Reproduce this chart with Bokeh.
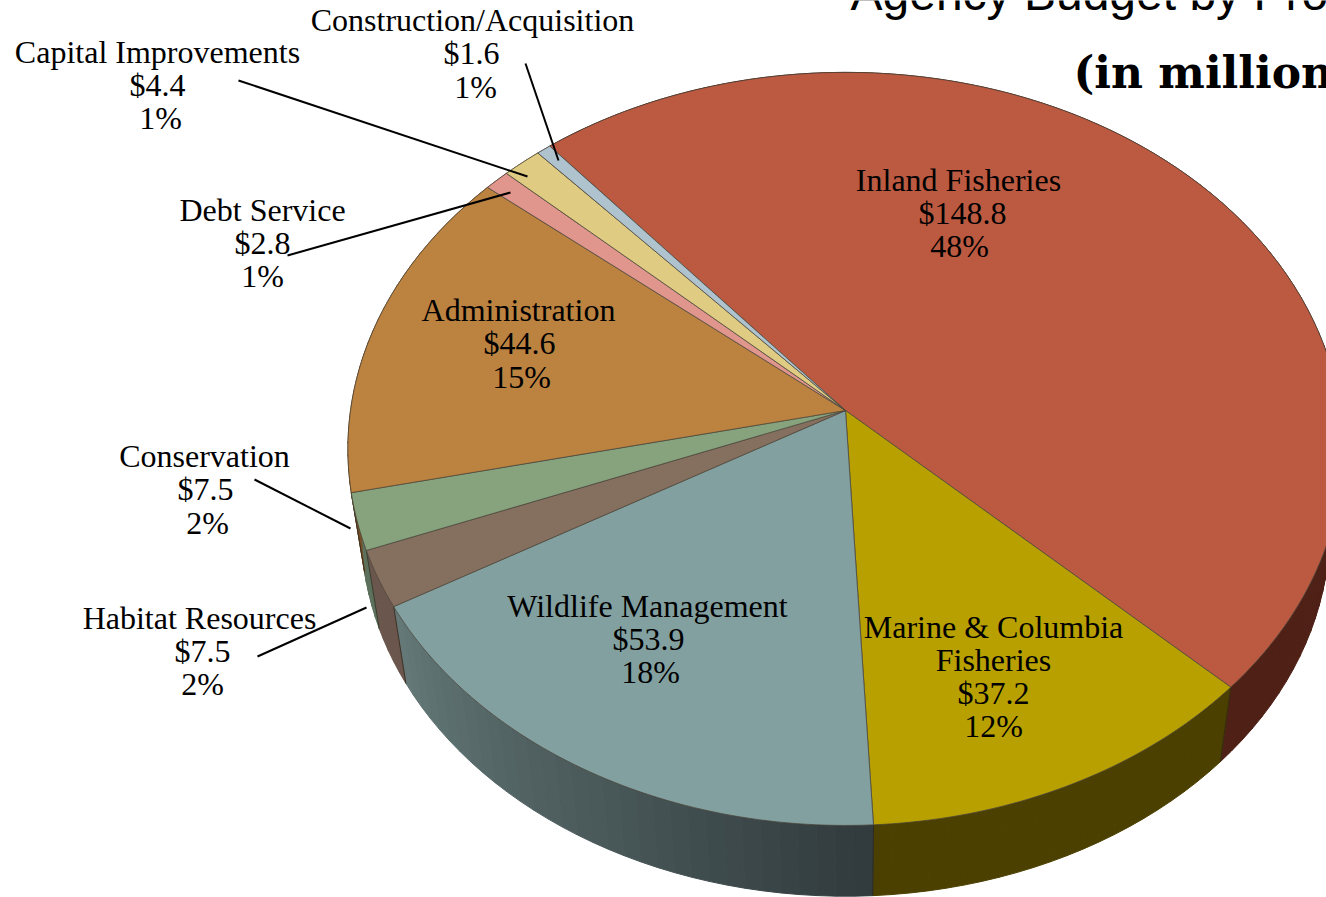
import math
from bokeh.plotting import figure
from bokeh.models import Range1d
from bokeh.embed import file_html
from bokeh.resources import INLINE
from bokeh.core.properties import value

programs = ["Inland Fisheries", "Marine & Columbia Fisheries", "Wildlife Management", "Habitat Resources",
            "Conservation", "Administration", "Debt Service", "Capital Improvements", "Construction/Acquisition"]
budget = [148.8, 37.2, 53.9, 7.5, 7.5, 44.6, 2.8, 4.4, 1.6]
percent = [48, 12, 18, 2, 2, 15, 1, 1, 1]
top_colors = ["#BC5A41", "#B8A000", "#82A0A0", "#85705F", "#86A37E", "#BC8240", "#E0968C", "#DFCB82", "#AEC3CE"]
wall_start = [(78, 32, 22), (75, 64, 0), (50, 60, 62), (106, 86, 76), (92, 112, 92), (120, 80, 40), (140, 90, 85), (140, 125, 80), (110, 120, 130)]
wall_end = [(78, 32, 22), (75, 64, 0), (100, 120, 120), (106, 86, 76), (92, 112, 92), (120, 80, 40), (140, 90, 85), (140, 125, 80), (110, 120, 130)]

W, H = 1326, 897
CX, CY, RX, RY, K = 845.0, 410.0, 495.0, 372.6, -0.102
START_DEG = -40.1
WALL_SCALE, WALL_DROP = 0.973, 82.0
SERIF = "Liberation Serif"
LABEL_PX = "32px"
LABEL_SHIFT = -11.5


def project(deg, lower=False):
    t = math.radians(deg)
    u, v = math.sin(t), math.cos(t)
    d = 1 - K * v
    x, y = RX * u / d, -RY * v / d
    if lower:
        return CX + x * WALL_SCALE, CY + y * WALL_SCALE + WALL_DROP
    return CX + x, CY + y


def arc_angles(a, b, step=1.0):
    n = max(2, int(math.ceil((b - a) / step)) + 1)
    return [a + (b - a) * i / (n - 1) for i in range(n)]


p = figure(width=W, height=H, x_range=Range1d(0, W), y_range=Range1d(H, 0),
           output_backend="svg", toolbar_location=None, min_border=0,
           background_fill_color="white", border_fill_color="white")
p.axis.visible = False
p.grid.visible = False
p.outline_line_color = None
p.styles = {"position": "absolute", "left": "0", "top": "0"}

total = sum(budget)
edges = [START_DEG]
for b in budget:
    edges.append(edges[-1] + 360.0 * b / total)

# side wall, shaded strip by strip
wx, wy, wc = [], [], []
for i in range(len(budget)):
    angs = arc_angles(edges[i], edges[i + 1], 2.0)
    for j in range(len(angs) - 1):
        f = j / max(1, len(angs) - 2)
        l, r = wall_start[i], wall_end[i]
        f2 = 1 - f
        col = tuple(int(l[c] * f2 + r[c] * f) for c in range(3))
        a, b = angs[j], angs[j + 1]
        p1, p2, p3, p4 = project(a), project(b), project(b, True), project(a, True)
        wx.append([p1[0], p2[0], p3[0], p4[0]])
        wy.append([p1[1], p2[1], p3[1], p4[1]])
        wc.append("#%02x%02x%02x" % col)
p.patches(wx, wy, fill_color=wc, line_color=wc, line_width=1)

# wall seams at the visible slice boundaries
for e in edges[1:6]:
    a, b = project(e), project(e, True)
    p.line([a[0], b[0]], [a[1], b[1]], line_color="#2a2418", line_width=1, line_alpha=0.7)

# top face
for i in range(len(budget)):
    pts = [project(a) for a in arc_angles(edges[i], edges[i + 1])]
    xs = [CX] + [q[0] for q in pts]
    ys = [CY] + [q[1] for q in pts]
    p.patch(xs, ys, fill_color=top_colors[i], line_color="#4a4438", line_width=1, line_alpha=0.75)

# leader lines
leaders = [((525, 63), (558, 160)), ((238, 80), (527, 176)), ((287, 255), (510, 192)),
           ((254, 479), (350, 528)), ((257, 656), (366, 607))]
for s, e in leaders:
    p.line([s[0], e[0]], [s[1], e[1]], line_color="black", line_width=2)

# labels: name lines then value then share, with hand-placed centre and baselines
label_layout = [
    (958, [191, 224, 257], [0, 4, 1]),
    (993, [638, 671, 704, 737], [0, 0, 0, 0]),
    (647, [617, 650, 683], [0, 1, 3]),
    (199, [629, 662, 695], [0, 3, 3]),
    (204, [467, 500, 534], [0, 1, 3]),
    (518, [321, 354, 388], [0, 1, 3]),
    (262, [221, 254, 287], [0, 0, 0]),
    (157, [63, 96, 129], [0, 0, 3]),
    (472, [31, 64, 98], [0, -1, 3]),
]
for i, name in enumerate(programs):
    if name.startswith("Marine"):
        head = ["Marine & Columbia", "Fisheries"]
    else:
        head = [name]
    lines = head + ["$%.1f" % budget[i], "%d%%" % percent[i]]
    cx, ys, dxs = label_layout[i]
    for line, y, dx in zip(lines, ys, dxs):
        p.text([cx + dx], [y + LABEL_SHIFT], text=[line], text_align="center", text_baseline="alphabetic",
               text_font=value(SERIF), text_font_size=LABEL_PX, text_color="black")

p.text([850], [-7], text=["Agency Budget by Pro"], text_align="left", text_baseline="alphabetic",
       text_font=value("Liberation Sans"), text_font_size="48px", text_color="black")
p.text([1073], [72], text=["(in million"], text_align="left", text_baseline="alphabetic",
       text_font=value("DejaVu Serif"), text_font_style="bold", text_font_size="44px", text_color="black")

open("out.html", "w").write(file_html(p, INLINE))
